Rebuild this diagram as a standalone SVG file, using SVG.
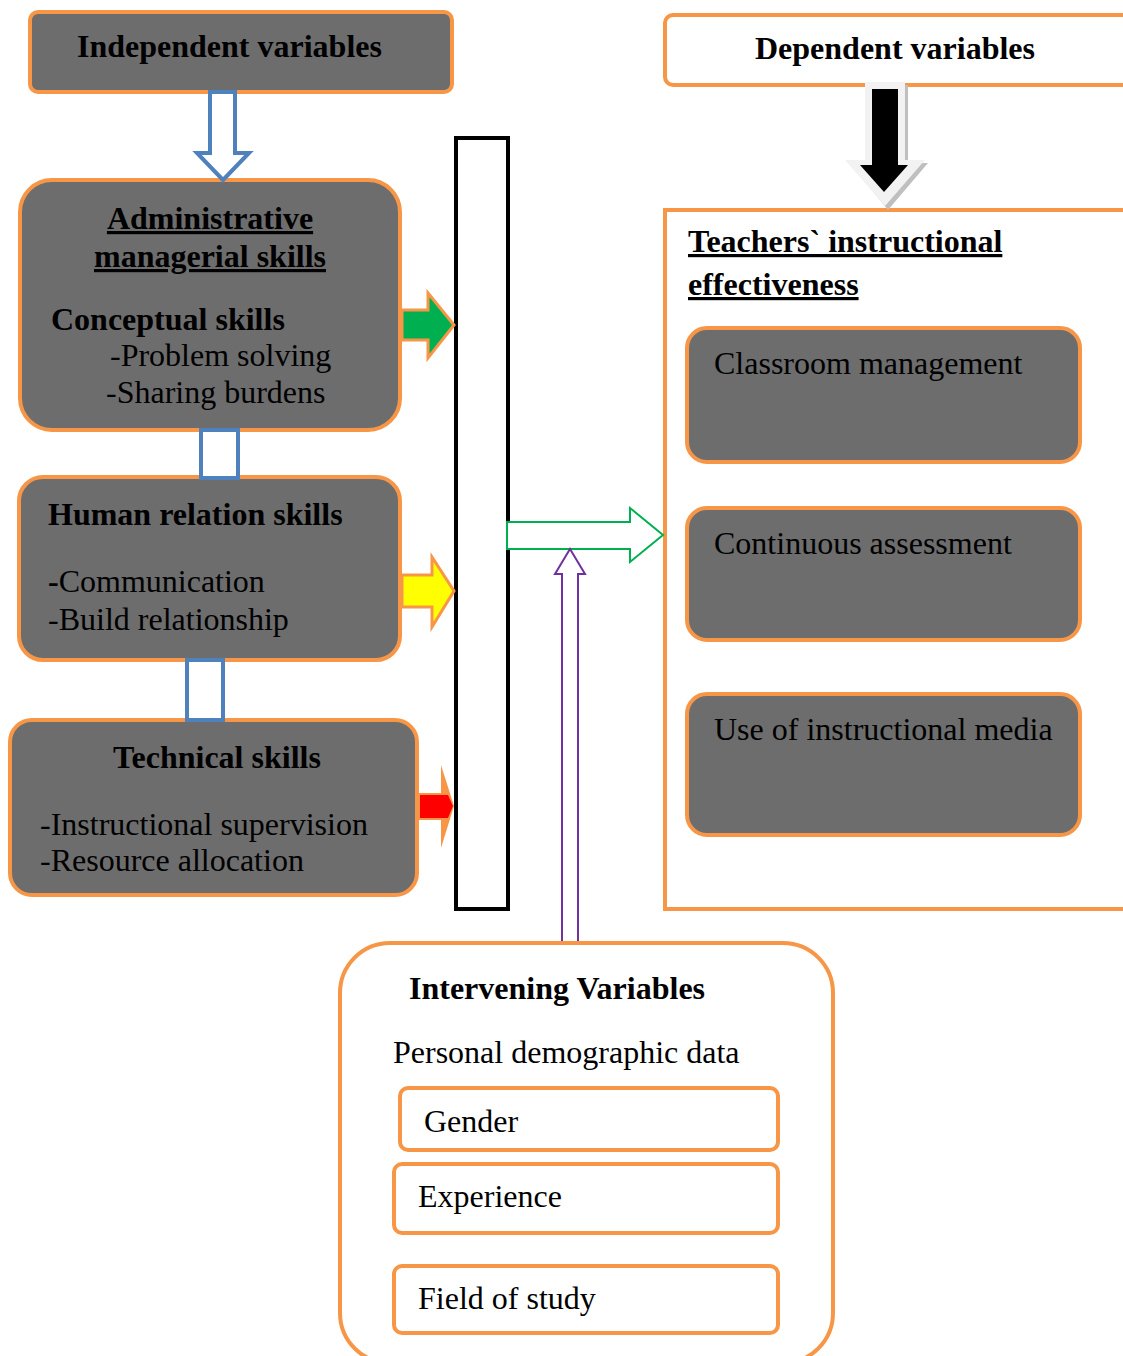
<svg xmlns="http://www.w3.org/2000/svg" width="1123" height="1356" viewBox="0 0 1123 1356">
<style>
.box{fill:#6D6D6D;stroke:#F79646;stroke-width:4}
.wbox{fill:#FFFFFF;stroke:#F79646;stroke-width:4}
.t{font-family:"Liberation Serif","Times New Roman",serif;font-size:32px;fill:#000}
.b{font-weight:bold}
.u{text-decoration:underline}
.blue{fill:#FFFFFF;stroke:#4F81BD;stroke-width:4}
</style>
<rect width="1123" height="1356" fill="#FFFFFF"/>

<g id="mediator">
  <rect x="456" y="138" width="52" height="771" fill="#FFFFFF" stroke="#000" stroke-width="4"/>
</g>

<g id="independent">
  <rect class="box" x="30" y="12" width="422" height="80" rx="8"/>
  <text class="t b" x="77" y="57">Independent variables</text>
</g>

<g id="administrative">
  <rect class="box" x="20" y="180" width="380" height="250" rx="32"/>
  <text class="t b u" x="210" y="229" text-anchor="middle">Administrative</text>
  <text class="t b u" x="210" y="267" text-anchor="middle">managerial skills</text>
  <text class="t b" x="51" y="330">Conceptual skills</text>
  <text class="t" x="110" y="366">-Problem solving</text>
  <text class="t" x="106" y="403">-Sharing burdens</text>
</g>

<g id="human">
  <rect class="box" x="19" y="477" width="381" height="183" rx="24"/>
  <text class="t b" x="48" y="525">Human relation skills</text>
  <text class="t" x="48" y="592"><tspan class="b">-</tspan>Communication</text>
  <text class="t" x="48" y="630">-Build relationship</text>
</g>

<g id="technical">
  <rect class="box" x="10" y="720" width="407" height="175" rx="22"/>
  <text class="t b" x="217" y="768" text-anchor="middle">Technical skills</text>
  <text class="t" x="40" y="835">-Instructional supervision</text>
  <text class="t" x="40" y="871">-Resource allocation</text>
</g>

<g id="dependent">
  <rect class="wbox" x="665" y="15" width="470" height="70" rx="8"/>
  <text class="t b" x="895" y="59" text-anchor="middle">Dependent variables</text>
</g>

<g id="effectiveness">
  <rect class="wbox" x="665" y="210" width="470" height="699"/>
  <text class="t b u" x="688" y="252">Teachers` instructional</text>
  <text class="t b u" x="688" y="295">effectiveness</text>
</g>

<g id="classroom">
  <rect class="box" x="687" y="328" width="393" height="134" rx="20"/>
  <text class="t" x="714" y="374">Classroom management</text>
</g>

<g id="assessment">
  <rect class="box" x="687" y="508" width="393" height="132" rx="20"/>
  <text class="t" x="714" y="554">Continuous assessment</text>
</g>

<g id="media">
  <rect class="box" x="687" y="694" width="393" height="141" rx="20"/>
  <text class="t" x="714" y="740">Use of instructional media</text>
</g>

<g id="intervening">
  <rect class="wbox" x="340" y="943" width="493" height="420" rx="50"/>
  <text class="t b" x="409" y="999">Intervening Variables</text>
  <text class="t" x="393" y="1063">Personal demographic data</text>
</g>

<g id="gender">
  <rect class="wbox" x="400" y="1088" width="378" height="62" rx="8"/>
  <text class="t" x="424" y="1132">Gender</text>
</g>

<g id="experience">
  <rect class="wbox" x="394" y="1164" width="384" height="69" rx="8"/>
  <text class="t" x="418" y="1207">Experience</text>
</g>

<g id="field">
  <rect class="wbox" x="394" y="1266" width="384" height="67" rx="8"/>
  <text class="t" x="418" y="1309">Field of study</text>
</g>

<g id="connectors">
  <path class="blue" d="M210,92 L235,92 L235,153 L249,153 L223,180 L197,153 L210,153 Z"/>
  <rect id="link1" class="blue" x="201" y="430" width="37" height="48"/>
  <rect id="link2" class="blue" x="187" y="660" width="36" height="60"/>
  <path d="M402,310 L428,310 L428,293 L454,325 L428,358 L428,340 L402,340 Z" fill="#00B050" stroke="#F79646" stroke-width="3"/>
  <path d="M402,575 L432,575 L432,557 L454,591 L432,627 L432,607 L402,607 Z" fill="#FFFF00" stroke="#F79646" stroke-width="3"/>
  <path d="M419,793 L441,793 L441,765 L454,806 L441,848 L441,820 L419,820 Z" fill="#F79646"/>
  <path d="M420,795 L448,795 L453,806 L448,818 L420,818 Z" fill="#FF0000"/>
  <path d="M507,522 L630,522 L630,508 L663,535 L630,562 L630,549 L507,549 Z" fill="#FFFFFF" stroke="#00B050" stroke-width="2"/>
  <path d="M562,941 L562,574 L555,574 L570,549 L585,574 L578,574 L578,941" fill="#FFFFFF" stroke="#7030A0" stroke-width="2"/>
  <path d="M868,85 L908,85 L908,163 L928,163 L888,210 L850,163 L868,163 Z" fill="#BFBFBF"/>
  <path d="M865,82 L905,82 L905,160 L925,160 L885,206 L845,160 L865,160 Z" fill="#F2F2F2"/>
  <path d="M872,89 L898,89 L898,165 L908,165 L884,192 L860,165 L872,165 Z" fill="#000000"/>
</g>
</svg>
